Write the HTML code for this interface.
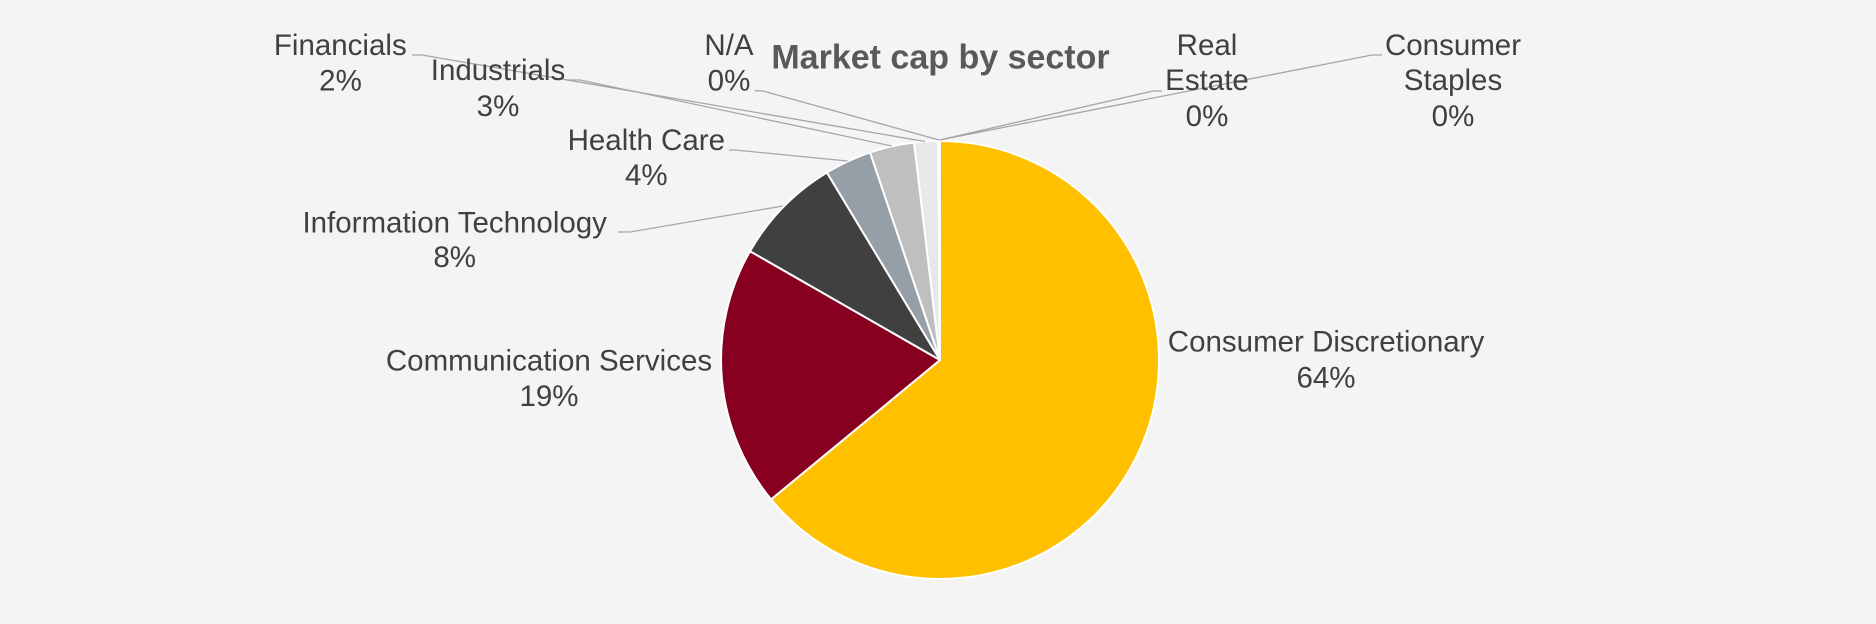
<!DOCTYPE html>
<html>
<head>
<meta charset="utf-8">
<style>
  html, body { margin: 0; padding: 0; background: #F4F4F4; }
  body { width: 1876px; height: 624px; overflow: hidden; }
  svg { display: block; }
  .lbl { font-family: "Liberation Sans", Arial, sans-serif; font-size: 29.5px; fill: #404040; text-anchor: middle; }
  .ttl { font-family: "Liberation Sans", Arial, sans-serif; font-size: 34px; font-weight: bold; fill: #595959; text-anchor: middle; }
  .ldr { fill: none; stroke: #A6A6A6; stroke-width: 1.3; }
</style>
</head>
<body>
<svg width="1876" height="624" viewBox="0 0 1876 624" xmlns="http://www.w3.org/2000/svg">
  <rect x="0" y="0" width="1876" height="624" fill="#F4F4F4"/>

  <!-- Pie slices -->
  <g stroke="#FFFFFF" stroke-width="2" stroke-linejoin="round">
    <path d="M940,360 L940,141 A219,219 0 1 1 771.1,499.4 Z" fill="#FFC000"/>
    <path d="M940,360 L771.1,499.4 A219,219 0 0 1 750.0,251.2 Z" fill="#87001F"/>
    <path d="M940,360 L750.0,251.2 A219,219 0 0 1 826.9,172.5 Z" fill="#404040"/>
    <path d="M940,360 L826.9,172.5 A219,219 0 0 1 870.1,152.4 Z" fill="#969EA7"/>
    <path d="M940,360 L870.1,152.4 A219,219 0 0 1 914.1,142.5 Z" fill="#BFBFBF"/>
    <path d="M940,360 L914.1,142.5 A219,219 0 0 1 938.1,141.0 Z" fill="#E8E8E8"/>
    <path d="M940,360 L938.1,141.0 A219,219 0 0 1 938.74,141.0 Z" fill="#F2F2F2"/>
    <path d="M940,360 L938.74,141.0 A219,219 0 0 1 939.35,141.0 Z" fill="#F2F2F2"/>
    <path d="M940,360 L939.35,141.0 A219,219 0 0 1 940,141 Z" fill="#F2F2F2"/>
  </g>

  <!-- Leader lines -->
  <polyline class="ldr" points="412,55 422,55 925,141.5"/>
  <polyline class="ldr" points="568,80 580,80 891.7,146"/>
  <polyline class="ldr" points="755,90.7 763,91 939,140"/>
  <polyline class="ldr" points="729,150 735,150 847.5,161"/>
  <polyline class="ldr" points="618,232 630,232 783,206"/>
  <polyline class="ldr" points="1162,91 1153,91 939.5,140"/>
  <polyline class="ldr" points="1382,55 1372,55 939.5,140"/>

  <!-- Title -->
  <text class="ttl" x="940.5" y="68.3">Market cap by sector</text>

  <!-- Labels -->
  <text class="lbl" x="340.3" y="55">Financials</text>
  <text class="lbl" x="340.5" y="90.7">2%</text>

  <text class="lbl" x="498" y="80">Industrials</text>
  <text class="lbl" x="498" y="116">3%</text>

  <text class="lbl" x="729" y="55">N/A</text>
  <text class="lbl" x="729" y="90.7">0%</text>

  <text class="lbl" x="646.3" y="150">Health Care</text>
  <text class="lbl" x="646.3" y="185">4%</text>

  <text class="lbl" x="454.7" y="232.3">Information Technology</text>
  <text class="lbl" x="454.7" y="267">8%</text>

  <text class="lbl" x="549" y="370.7">Communication Services</text>
  <text class="lbl" x="549" y="406">19%</text>

  <text class="lbl" x="1326" y="351.7">Consumer Discretionary</text>
  <text class="lbl" x="1326" y="387.7">64%</text>

  <text class="lbl" x="1207" y="55">Real</text>
  <text class="lbl" x="1207" y="90">Estate</text>
  <text class="lbl" x="1207" y="126">0%</text>

  <text class="lbl" x="1453" y="55">Consumer</text>
  <text class="lbl" x="1453" y="90">Staples</text>
  <text class="lbl" x="1453" y="126">0%</text>
</svg>
</body>
</html>
